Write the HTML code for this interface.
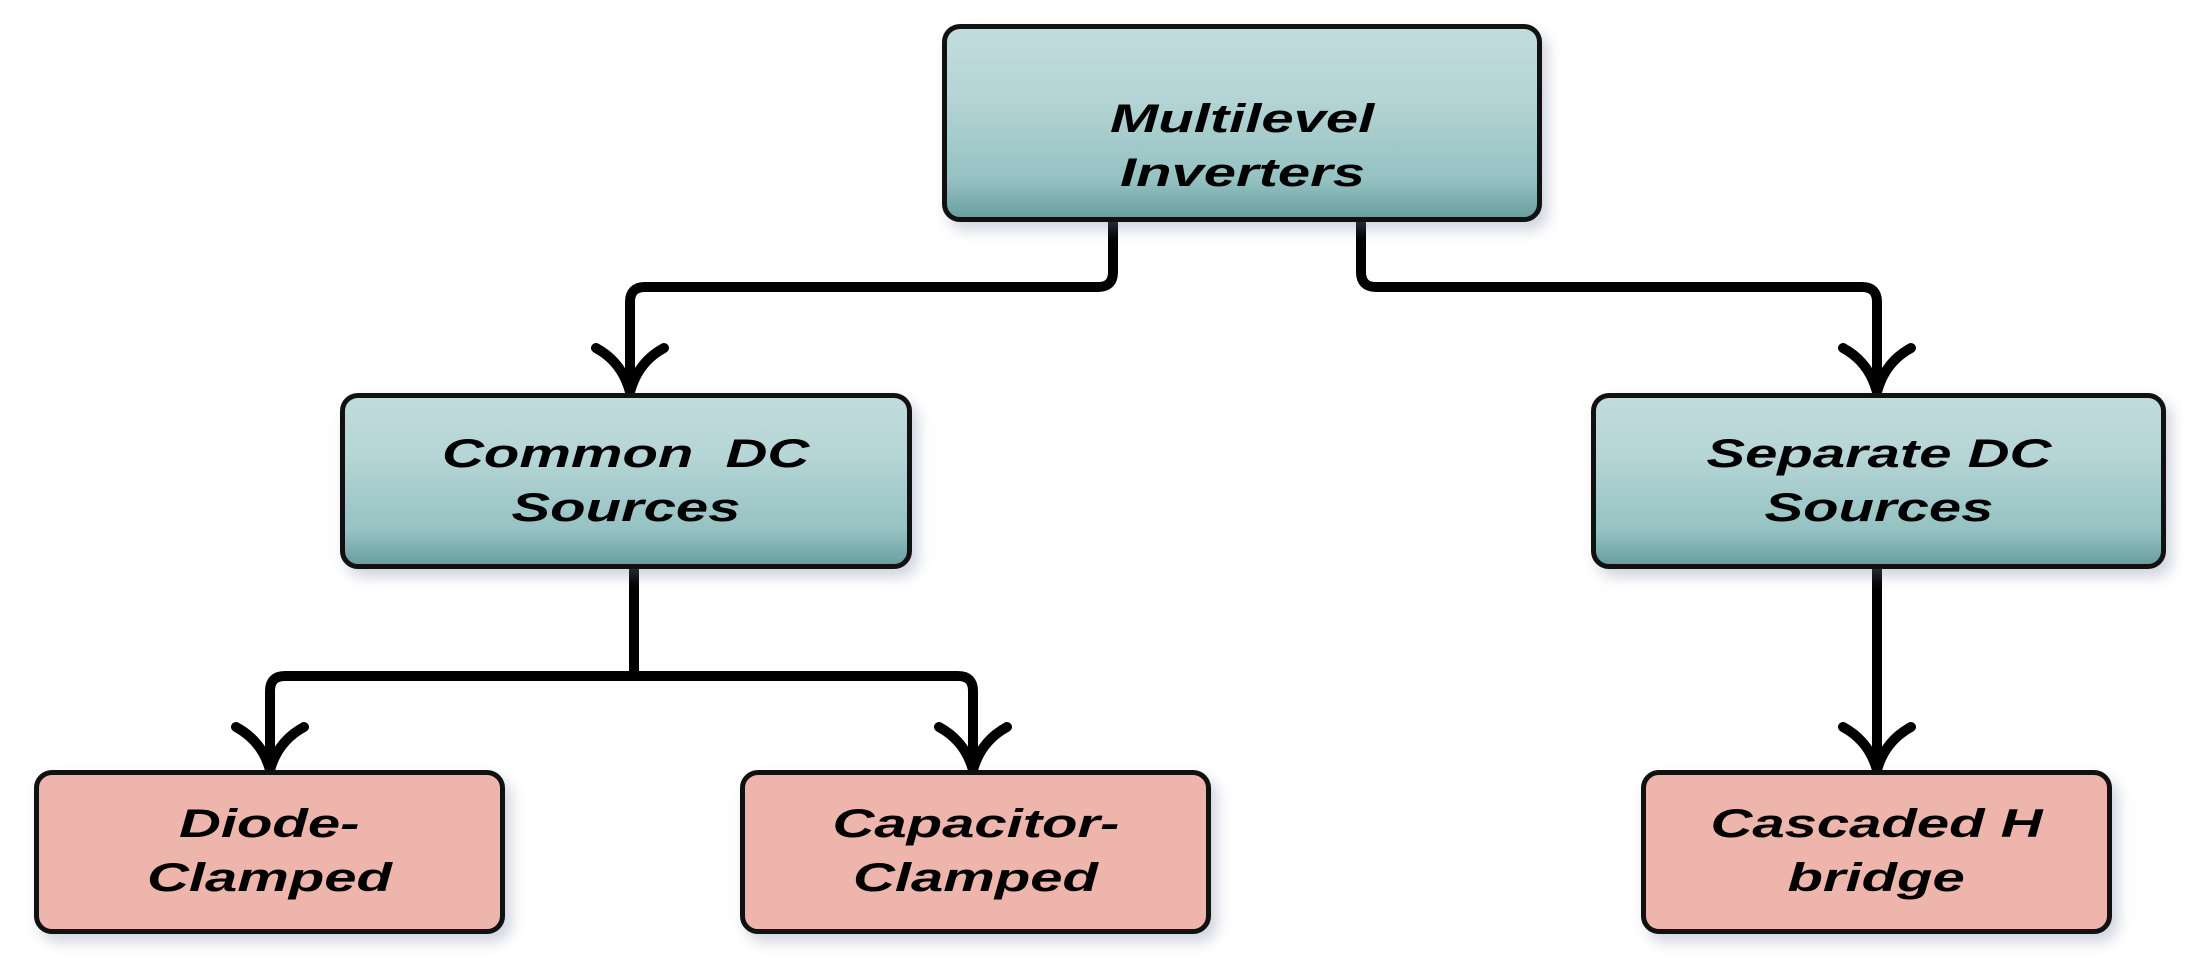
<!DOCTYPE html>
<html><head><meta charset="utf-8"><style>
html,body{margin:0;padding:0;background:#fff;}
body{width:2196px;height:963px;position:relative;overflow:hidden;font-family:"Liberation Sans",sans-serif;}
.b{position:absolute;box-sizing:border-box;border:5px solid #111;border-radius:18px;box-shadow:6px 8px 14px rgba(120,130,160,.35);}
.t{background:linear-gradient(#c2dcdd 0%,#b6d5d6 35%,#95c2c2 80%,#6a9fa0 100%);}
.p{background:#edb5ab;}
.tx{position:absolute;left:0;right:0;text-align:center;font-weight:bold;font-style:italic;font-size:40px;line-height:54px;color:#000;}
.tx span{display:inline-block;transform:scaleX(1.45);}
svg{position:absolute;left:0;top:0;}
</style></head><body>
<svg width="2196" height="963" viewBox="0 0 2196 963">
<g fill="none" stroke="#000" stroke-width="10" stroke-linecap="round" stroke-linejoin="round">
<path d="M1113 218 V272 Q1113 287 1098 287 H645 Q630 287 630 302 V392"/>
<path d="M1361 218 V272 Q1361 287 1376 287 H1862 Q1877 287 1877 302 V392"/>
<path d="M634 568 V676"/>
<path d="M634 676 H285 Q270 676 270 691 V770"/>
<path d="M634 676 H958 Q973 676 973 691 V770"/>
<path d="M1877 566 V770"/>
<path d="M596 348 Q622 362 630 392 Q638 362 664 348"/>
<path d="M1843 348 Q1869 362 1877 392 Q1885 362 1911 348"/>
<path d="M236 727 Q262 741 270 770 Q278 741 304 727"/>
<path d="M939 727 Q965 741 973 770 Q981 741 1007 727"/>
<path d="M1843 727 Q1869 741 1877 770 Q1885 741 1911 727"/>
</g>
</svg>
<div class="b t" style="left:942px;top:24px;width:600px;height:198px;"><div class="tx" style="top:63px"><span>Multilevel</span><br><span>Inverters</span></div></div>
<div class="b t" style="left:340px;top:393px;width:572px;height:176px;"><div class="tx" style="top:29px"><span>Common&nbsp; DC</span><br><span>Sources</span></div></div>
<div class="b t" style="left:1591px;top:393px;width:575px;height:176px;"><div class="tx" style="top:29px"><span>Separate DC</span><br><span>Sources</span></div></div>
<div class="b p" style="left:34px;top:770px;width:471px;height:164px;"><div class="tx" style="top:22px"><span>Diode-</span><br><span>Clamped</span></div></div>
<div class="b p" style="left:740px;top:770px;width:471px;height:164px;"><div class="tx" style="top:22px"><span>Capacitor-</span><br><span>Clamped</span></div></div>
<div class="b p" style="left:1641px;top:770px;width:471px;height:164px;"><div class="tx" style="top:22px"><span>Cascaded H</span><br><span>bridge</span></div></div>
</body></html>
